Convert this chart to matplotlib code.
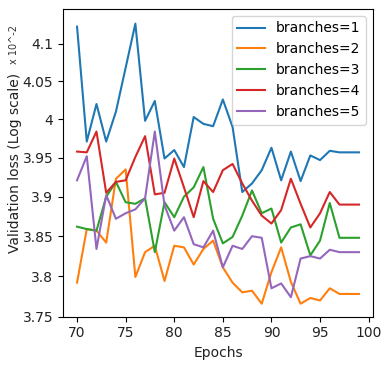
import matplotlib
matplotlib.use("Agg")
import matplotlib.pyplot as plt
from matplotlib.ticker import NullLocator, FixedLocator, FixedFormatter

epochs = list(range(70, 100))

b1 = [4.123, 3.971, 4.020, 3.971, 4.010, 4.068, 4.127, 3.998, 4.024, 3.949,
      3.960, 3.938, 4.003, 3.994, 3.991, 4.026, 3.990, 3.906, 3.917, 3.934,
      3.963, 3.921, 3.958, 3.920, 3.953, 3.947, 3.959, 3.957, 3.957, 3.957]
b2 = [3.792, 3.859, 3.857, 3.842, 3.923, 3.935, 3.799, 3.830, 3.838, 3.794,
      3.838, 3.836, 3.8145, 3.834, 3.8445, 3.811, 3.792, 3.780, 3.782, 3.766,
      3.805, 3.836, 3.793, 3.766, 3.773, 3.770, 3.785, 3.778, 3.778, 3.778]
b3 = [3.862, 3.859, 3.857, 3.900, 3.919, 3.893, 3.891, 3.898, 3.830, 3.893,
      3.874, 3.900, 3.912, 3.938, 3.872, 3.841, 3.849, 3.876, 3.908, 3.879,
      3.885, 3.842, 3.861, 3.865, 3.826, 3.8445, 3.892, 3.848, 3.848, 3.848]
b4 = [3.958, 3.957, 3.984, 3.905, 3.919, 3.921, 3.951, 3.978, 3.903, 3.905,
      3.949, 3.912, 3.874, 3.920, 3.906, 3.934, 3.942, 3.917, 3.895, 3.876,
      3.866, 3.883, 3.923, 3.891, 3.861, 3.879, 3.906, 3.890, 3.890, 3.890]
b5 = [3.921, 3.952, 3.834, 3.902, 3.872, 3.879, 3.884, 3.898, 3.984, 3.889,
      3.857, 3.874, 3.840, 3.836, 3.857, 3.811, 3.838, 3.834, 3.850, 3.848,
      3.785, 3.791, 3.774, 3.822, 3.825, 3.822, 3.833, 3.830, 3.830, 3.830]

series = [b1, b2, b3, b4, b5]
labels = ["branches=1", "branches=2", "branches=3", "branches=4", "branches=5"]

yticks = [3.75, 3.8, 3.85, 3.9, 3.95, 4.0, 4.05, 4.1]
ytick_labels = ["3.75", "3.8", "3.85", "3.9", "3.95", "4", "4.05", "4.1"]

fig = plt.figure(figsize=(3.91, 3.70), dpi=100)
ax = fig.add_axes([0.161, 0.144, 0.793, 0.832])

for vals, lab in zip(series, labels):
    ax.plot(epochs, vals, lw=1.5, label=lab)

ax.set_yscale("log")
ax.set_ylim(3.75, 4.147)
ax.yaxis.set_major_locator(FixedLocator(yticks))
ax.yaxis.set_major_formatter(FixedFormatter(ytick_labels))
ax.yaxis.set_minor_locator(NullLocator())
ax.set_xticks([70, 75, 80, 85, 90, 95, 100])

ax.set_xlabel("Epochs", fontsize=10, color="#222222")
ax.set_ylabel("Validation loss (Log scale)", fontsize=10, color="#222222",
              labelpad=0.5)
ax.tick_params(labelsize=10, labelcolor="#222222")
ax.legend(loc="upper right", fontsize=10)

# small multiplier note after the y label
fig.text(14 / 391, 1 - 45 / 370, "x 10^-2", rotation=90, fontsize=7,
         ha="center", va="center", color="#333333")

fig.savefig("out.png", dpi=100)
